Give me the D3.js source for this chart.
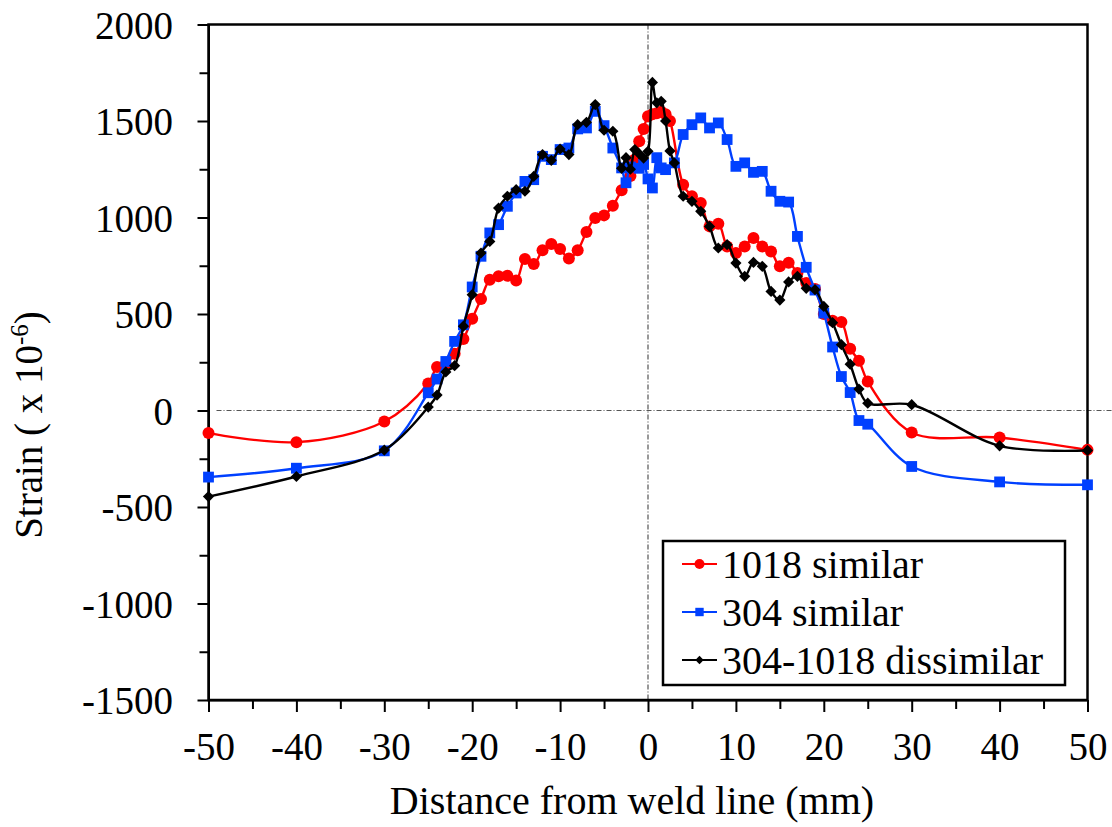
<!DOCTYPE html>
<html>
<head>
<meta charset="utf-8">
<script src="https://cdn.jsdelivr.net/npm/d3@7"></script>
<style>
  body { margin: 0; background: #fff; }
  svg text { font-family: "Liberation Serif", "Times New Roman", serif; fill: #000; }
</style>
</head>
<body>
<div id="chart"></div>
<script>
// 1018 similar
const dist1018 = [-50, -40, -30, -25, -24, -23, -22, -21, -20, -19, -18, -17, -16, -15, -14, -13, -12, -11, -10, -9, -8, -7, -6, -5, -4, -3,
  -2, -1.5, -1, -0.5, 0, 0.5, 1, 1.5, 2, 2.5,
  4, 5, 6, 7, 8, 9, 10, 11, 12, 13, 14, 15, 16, 17, 18, 19, 20, 21, 22, 23, 24, 25, 30, 40, 50];
const strain1018 = [-117, -164, -57, 140, 225, 240, 294, 370, 475, 578, 678, 695, 698, 674, 785, 759, 830, 863, 837, 787, 830, 925, 998, 1011, 1061, 1141,
  1215, 1300, 1395, 1458, 1525, 1535, 1540, 1548, 1535, 1500,
  1170, 1110, 1075, 954, 968, 850, 816, 850, 894, 850, 824, 747, 765, 712, 660, 630, 500, 465, 458, 320, 258, 150, -114, -140, -204];

// 304 similar
const dist304 = [-50, -40, -30, -25, -24, -23, -22, -21, -20, -19, -18, -17, -16, -15, -14, -13, -12, -11, -10, -9, -8, -7, -6, -5, -4, -3,
  -2.5, -2, -1, -0.5, 0, 0.5, 1, 1.5, 2, 3,
  4, 5, 6, 7, 8, 9, 10, 11, 12, 13, 14, 15, 16, 17, 18, 19, 20, 21, 22, 23, 24, 25, 30, 40, 50];
const strain304 = [-345, -299, -209, 92, 163, 254, 358, 444, 640, 799, 920, 963, 1058, 1127, 1187, 1196, 1317, 1300, 1352, 1360, 1459, 1464, 1550, 1476, 1360, 1257,
  1180, 1262, 1255, 1275, 1200, 1153, 1310, 1257, 1248, 1283,
  1430, 1481, 1516, 1464, 1490, 1404, 1265, 1283, 1234, 1239, 1136, 1084, 1080, 902, 742, 624, 505, 329, 176, 93, -52, -71, -290, -370, -385];

// 304-1018 dissimilar
const distDiss = [-50, -40, -30, -25, -24, -23, -22, -21, -20, -19, -18, -17, -16, -15, -14, -13, -12, -11, -10, -9, -8, -7, -6, -5, -4,
  -3, -2.5, -2, -1.5, -1, -0.5, 0, 0.5, 1, 1.5, 2, 2.5, 3,
  4, 5, 6, 7, 8, 9, 10, 11, 12, 13, 14, 15, 16, 17, 18, 19, 20, 21, 22, 23, 24, 25, 30, 40, 50];
const strainDiss = [-446, -342, -205, 18, 80, 200, 232, 437, 600, 816, 876, 1049, 1110, 1144, 1136, 1213, 1326, 1296, 1355, 1326, 1481, 1493, 1585, 1452, 1447,
  1255, 1310, 1250, 1352, 1330, 1308, 1343, 1700, 1594, 1602, 1500, 1345, 1283,
  1110, 1084, 1032, 954, 842, 859, 764, 695, 767, 747, 617, 572, 666, 695, 633, 626, 539, 455, 341, 240, 111, 38, 30, -183, -207];

const seriesNames = ["1018 similar", "304 similar", "304-1018 dissimilar"];
const seriesColors = ["#ff0000", "#0040ff", "#000000"];

const xTicks = [-50, -40, -30, -20, -10, 0, 10, 20, 30, 40, 50];
const xMinor = [-45, -35, -25, -15, -5, 5, 15, 25, 35, 45];
const yTicks = [-1500, -1000, -500, 0, 500, 1000, 1500, 2000];
const yMinor = [-1250, -750, -250, 250, 750, 1250, 1750];

(function () {
  const W = 1112, H = 827;
  const margin = { top: 24.5, left: 208.5 };
  const width = 879, height = 675.5;

  const svg = d3.select("#chart").append("svg")
    .attr("width", W).attr("height", H);
  const g = svg.append("g")
    .attr("transform", `translate(${margin.left},${margin.top})`);

  const x = d3.scaleLinear().domain([-50, 50]).range([0, width]);
  const y = d3.scaleLinear().domain([-1500, 2000]).range([height, 0]);

  // plain hyphen minus, no thousands separator
  const fmt = d => String(d);

  // dash-dot reference lines
  g.append("line")
    .attr("x1", x(0)).attr("x2", x(0))
    .attr("y1", 0).attr("y2", height)
    .attr("stroke", "#555").attr("stroke-width", 1.2)
    .attr("stroke-dasharray", "5,2,1,2");
  g.append("line")
    .attr("x1", 8).attr("x2", W - margin.left)
    .attr("y1", y(0)).attr("y2", y(0))
    .attr("stroke", "#555").attr("stroke-width", 1.2)
    .attr("stroke-dasharray", "5,2,1,2");

  // axes: minor ticks then major ticks
  const fontSize = 39;
  g.append("g")
    .attr("transform", `translate(0,${height})`)
    .call(d3.axisBottom(x).tickValues(xMinor).tickSize(9).tickFormat(""))
    .call(a => a.select(".domain").remove());
  const xAxis = g.append("g")
    .attr("transform", `translate(0,${height})`)
    .call(d3.axisBottom(x).tickValues(xTicks).tickSize(12).tickSizeOuter(0).tickFormat(fmt));
  xAxis.selectAll("text")
    .attr("y", 60).attr("dy", 0)
    .style("font-size", fontSize + "px");

  g.append("g")
    .call(d3.axisLeft(y).tickValues(yMinor).tickSize(9).tickFormat(""))
    .call(a => a.select(".domain").remove());
  const yAxis = g.append("g")
    .call(d3.axisLeft(y).tickValues(yTicks).tickSize(11).tickSizeOuter(0).tickFormat(fmt));
  yAxis.selectAll("text")
    .attr("x", -35.5).attr("dy", "0.35em")
    .style("font-size", fontSize + "px");

  svg.selectAll(".tick line").attr("stroke", "#000").attr("stroke-width", 2);
  svg.selectAll(".domain").attr("stroke", "#000").attr("stroke-width", 2);

  // plot frame
  g.append("rect")
    .attr("x", 0).attr("y", 0)
    .attr("width", width).attr("height", height)
    .attr("fill", "none").attr("stroke", "#000").attr("stroke-width", 2.5);

  // series
  const series = [
    { name: seriesNames[0], color: seriesColors[0], shape: "circle", pts: dist1018.map((d, i) => [d, strain1018[i]]) },
    { name: seriesNames[1], color: seriesColors[1], shape: "square", pts: dist304.map((d, i) => [d, strain304[i]]) },
    { name: seriesNames[2], color: seriesColors[2], shape: "diamond", pts: distDiss.map((d, i) => [d, strainDiss[i]]) }
  ];

  const line = d3.line()
    .x(d => x(d[0]))
    .y(d => y(d[1]))
    .curve(d3.curveCatmullRom.alpha(0.5));

  function drawMarker(sel, shape, color, s) {
    if (shape === "circle") {
      sel.append("circle").attr("r", s).attr("fill", color);
    } else if (shape === "square") {
      sel.append("rect").attr("x", -s).attr("y", -s)
        .attr("width", 2 * s).attr("height", 2 * s).attr("fill", color);
    } else {
      sel.append("path")
        .attr("d", `M0,${-s}L${s},0L0,${s}L${-s},0Z`)
        .attr("fill", color);
    }
  }

  const sizes = { circle: 6, square: 5.4, diamond: 5.6 };

  series.forEach(s => {
    g.append("path")
      .datum(s.pts)
      .attr("d", line)
      .attr("fill", "none")
      .attr("stroke", s.color)
      .attr("stroke-width", 2.4);
    g.append("g").selectAll("g")
      .data(s.pts)
      .enter().append("g")
      .attr("transform", d => `translate(${x(d[0])},${y(d[1])})`)
      .each(function () { drawMarker(d3.select(this), s.shape, s.color, sizes[s.shape]); });
  });

  // legend
  const leg = svg.append("g");
  leg.append("rect")
    .attr("x", 663).attr("y", 541)
    .attr("width", 402).attr("height", 144)
    .attr("fill", "#fff").attr("stroke", "#000").attr("stroke-width", 2.5);
  const legY = [564, 612, 660];
  const legSizes = { circle: 5, square: 4.2, diamond: 4.2 };
  series.forEach((s, i) => {
    const row = leg.append("g").attr("transform", `translate(0,${legY[i]})`);
    row.append("line")
      .attr("x1", 682).attr("x2", 717)
      .attr("stroke", s.color).attr("stroke-width", 2.2);
    drawMarker(row.append("g").attr("transform", "translate(699.5,0)"), s.shape, s.color, legSizes[s.shape]);
    row.append("text")
      .attr("x", 722).attr("dy", "0.35em")
      .style("font-size", "40px")
      .text(s.name);
  });

  // axis titles
  svg.append("text")
    .attr("x", 632).attr("y", 814)
    .attr("text-anchor", "middle")
    .style("font-size", "40px")
    .text("Distance from weld line (mm)");

  const yt = svg.append("text")
    .attr("transform", "translate(42,425) rotate(-90)")
    .attr("text-anchor", "middle")
    .style("font-size", "39px");
  yt.append("tspan").text("Strain ( x 10");
  yt.append("tspan").attr("dy", -14).style("font-size", "25px").text("-6");
  yt.append("tspan").attr("dy", 14).text(")");
})();
</script>
</body>
</html>
